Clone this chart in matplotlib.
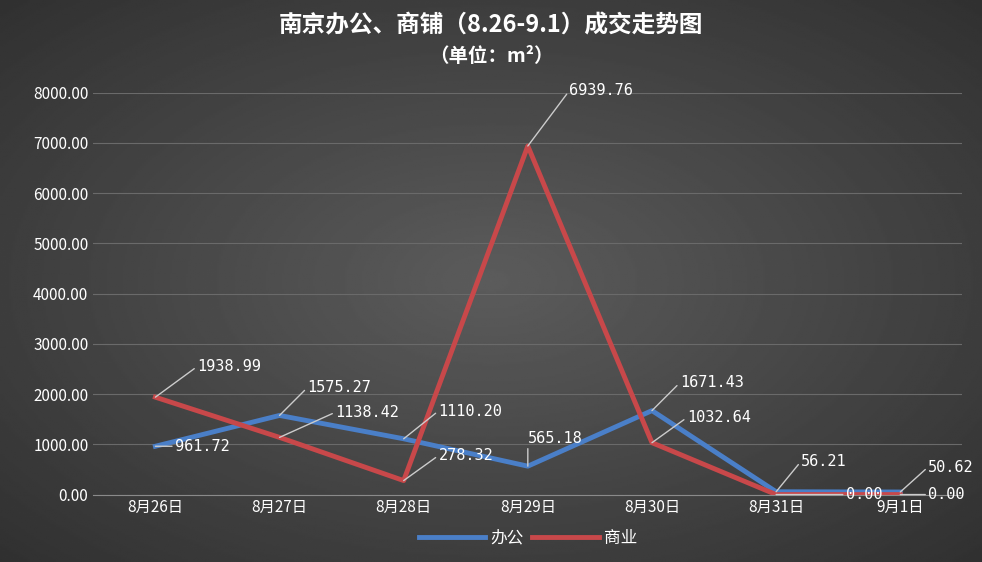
import numpy as np
import matplotlib.pyplot as plt

plt.rcParams["font.family"] = "Noto Sans CJK SC"

days = ["8月26日", "8月27日", "8月28日", "8月29日", "8月30日", "8月31日", "9月1日"]
office = [961.72, 1575.27, 1110.20, 565.18, 1671.43, 56.21, 50.62]
shop = [1938.99, 1138.42, 278.32, 6939.76, 1032.64, 0.00, 0.00]

blue = "#4a7fc8"
red = "#c8484a"

fig = plt.figure(figsize=(9.82, 5.62), dpi=100)
bg = fig.add_axes([0, 0, 1, 1])
yy, xx = np.mgrid[-1:1:300j, -1:1:500j]
r = np.sqrt(xx**2 + yy**2)
bg.imshow(0.36 - 0.12 * r, cmap="gray", vmin=0, vmax=1, aspect="auto")
bg.axis("off")

ax = fig.add_axes([0.095, 0.12, 0.885, 0.715])
ax.set_facecolor("none")
x = np.arange(len(days))
ax.plot(x, office, color=blue, lw=3.5, label="办公")
ax.plot(x, shop, color=red, lw=3.5, label="商业")
ax.set_xlim(-0.5, len(days) - 0.5)
ax.set_ylim(0, 8000)
ax.set_yticks(np.arange(0, 8001, 1000))
ax.set_yticklabels([f"{v:.2f}" for v in np.arange(0, 8001, 1000)])
ax.set_xticks(x)
ax.set_xticklabels(days)
ax.tick_params(colors="white", labelsize=11, length=0)
ax.grid(axis="y", color="#6a6a6a", lw=0.8)
for s in ax.spines.values():
    s.set_visible(False)
ax.spines["bottom"].set_visible(True)
ax.spines["bottom"].set_color("#8a8a8a")

def annotate(xi, v, dx, dy):
    ax.annotate(f"{v:.2f}", (xi, v), xytext=(dx, dy), textcoords="offset points",
                color="white", fontsize=11, family="DejaVu Sans Mono",
                va="center", ha="left",
                arrowprops=dict(arrowstyle="-", color="#cccccc", lw=1,
                                shrinkA=0, shrinkB=0, relpos=(0, 0.5)))

office_off = [(14, 0), (20, 20), (25, 20), (0, 20), (20, 20), (18, 22), (20, 18)]
shop_off = [(30, 22), (40, 18), (25, 18), (30, 40), (25, 18), (50, 0), (20, 0)]
for i in range(len(days)):
    annotate(i, office[i], *office_off[i])
    annotate(i, shop[i], *shop_off[i])

ax.legend(loc="upper center", bbox_to_anchor=(0.5, -0.05), ncol=2, frameon=False,
          labelcolor="white", fontsize=12, handlelength=4, columnspacing=0.5,
          handletextpad=0.3)

fig.text(0.5, 0.955, "南京办公、商铺（8.26-9.1）成交走势图", color="white",
         ha="center", va="center", fontsize=17, weight="bold")
fig.text(0.5, 0.9, "（单位：m²）", color="white", ha="center", va="center",
         fontsize=14, weight="bold")

fig.savefig("out.png")
